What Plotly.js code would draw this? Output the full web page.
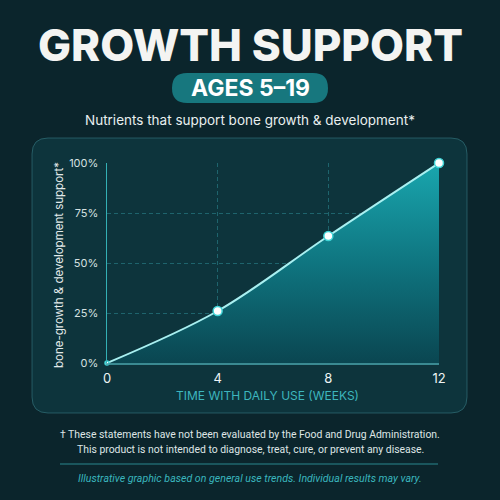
<!DOCTYPE html>
<html>
<head>
<meta charset="utf-8">
<script src="https://cdn.plot.ly/plotly-3.0.1.min.js"></script>
<style>
html,body{margin:0;padding:0;background:#0b252c;}
#chart{width:500px;height:500px;}
</style>
</head>
<body>
<div id="chart"></div>
<script>
// ---- data ----
var weeks = [0, 4, 8, 12];
var support = [0, 26, 63.5, 100];
var xTickVals = [0, 4, 8, 12];
var xTickText = ['0', '4', '8', '12'];
var yTickVals = [0, 25, 50, 75, 100];
var yTickText = ['0%', '25%', '50%', '75%', '100%'];

var titleText = 'GROWTH SUPPORT';
var pillText = 'AGES 5–19';
var subtitleText = 'Nutrients that support bone growth &amp; development*';
var yTitleText = 'bone-growth &amp; development support*';
var xTitleText = 'TIME WITH DAILY USE (WEEKS)';
var footer1 = '† These statements have not been evaluated by the Food and Drug Administration.';
var footer2 = 'This product is not intended to diagnose, treat, cure, or prevent any disease.';
var footer3 = 'Illustrative graphic based on general use trends. Individual results may vary.';

// ---- helpers (pixel -> paper) ----
var W = 500, H = 500;
function px(x){ return x / W; }
function py(y){ return 1 - y / H; }
function roundRect(x0, y0, x1, y1, r){
  var p = [];
  p.push('M', px(x0 + r), py(y0));
  p.push('L', px(x1 - r), py(y0));
  p.push('Q', px(x1), py(y0), px(x1), py(y0 + r));
  p.push('L', px(x1), py(y1 - r));
  p.push('Q', px(x1), py(y1), px(x1 - r), py(y1));
  p.push('L', px(x0 + r), py(y1));
  p.push('Q', px(x0), py(y1), px(x0), py(y1 - r));
  p.push('L', px(x0), py(y0 + r));
  p.push('Q', px(x0), py(y0), px(x0 + r), py(y0));
  p.push('Z');
  var s = '';
  for (var i = 0; i < p.length; i++){
    var v = p[i];
    if (typeof v === 'number') s += v.toFixed(5) + (typeof p[i+1] === 'number' ? ',' : ' ');
    else s += v + ' ';
  }
  return s;
}

var areaTrace = {
  x: weeks,
  y: support,
  type: 'scatter',
  mode: 'lines',
  line: {shape: 'spline', smoothing: 1, color: '#a9f0f1', width: 2},
  fill: 'tozeroy',
  fillgradient: {type: 'vertical', colorscale: [[0, '#0a4651'], [0.5, '#0f7580'], [1, '#19a6ae']]},
  cliponaxis: false,
  hoverinfo: 'skip'
};

var pointTrace = {
  x: weeks,
  y: support,
  type: 'scatter',
  mode: 'markers',
  marker: {size: [4, 9, 9, 9], color: '#ffffff', opacity: 1,
           line: {color: '#3fd3d6', width: 1.5}},
  cliponaxis: false,
  hoverinfo: 'skip'
};

var layout = {
  width: W, height: H,
  margin: {l: 0, r: 0, t: 0, b: 0},
  paper_bgcolor: '#0b252c',
  plot_bgcolor: 'rgba(0,0,0,0)',
  showlegend: false,
  font: {family: 'Inter, Roboto, sans-serif', color: '#e8eeee'},
  xaxis: {
    domain: [px(107), px(439)],
    range: [0, 12],
    tickvals: xTickVals, ticktext: xTickText,
    tickfont: {size: 13, color: '#eef4f4'},
    showgrid: true, gridcolor: 'rgba(45,140,150,0.55)', griddash: '4px,3px', gridwidth: 1,
    zeroline: false,
    showline: true, linecolor: 'rgba(70,160,168,0.8)', linewidth: 1.5,
    ticks: '', ticklabelstandoff: 3,
    fixedrange: true
  },
  yaxis: {
    domain: [py(363), py(163)],
    range: [0, 100],
    tickvals: yTickVals, ticktext: yTickText,
    tickfont: {size: 11, color: '#d5e0e0'},
    showgrid: true, gridcolor: 'rgba(45,140,150,0.55)', griddash: '4px,3px', gridwidth: 1,
    zeroline: false,
    showline: true, linecolor: '#33b0b5', linewidth: 1.5,
    ticks: '', ticklabelstandoff: 5,
    fixedrange: true
  },
  shapes: [
    {type: 'path', xref: 'paper', yref: 'paper', layer: 'below',
     path: roundRect(32, 138, 467, 413, 16),
     fillcolor: '#0d343c', line: {color: 'rgba(60,130,138,0.55)', width: 1}},
    {type: 'path', xref: 'paper', yref: 'paper', layer: 'below',
     path: roundRect(172, 73, 328, 103, 15),
     fillcolor: '#17777e', line: {width: 0}},
    {type: 'line', xref: 'paper', yref: 'paper', layer: 'below',
     x0: px(60), x1: px(438), y0: py(464), y1: py(464),
     line: {color: 'rgba(50,160,168,0.8)', width: 1}}
  ],
  annotations: [
    {text: titleText, xref: 'paper', yref: 'paper', x: 0.5, y: py(45), showarrow: false,
     xanchor: 'center', yanchor: 'middle',
     font: {family: 'Inter, sans-serif', size: 44, weight: 800, color: '#f4f4f2'}},
    {text: pillText, xref: 'paper', yref: 'paper', x: 0.5, y: py(88), showarrow: false,
     xanchor: 'center', yanchor: 'middle',
     font: {family: 'Inter, sans-serif', size: 23, weight: 700, color: '#ffffff'}},
    {text: subtitleText, xref: 'paper', yref: 'paper', x: 0.5, y: py(120), showarrow: false,
     xanchor: 'center', yanchor: 'middle',
     font: {family: 'Inter, sans-serif', size: 13.5, color: '#e9efef'}},
    {text: yTitleText, xref: 'paper', yref: 'paper', x: px(59), y: py(265), showarrow: false,
     xanchor: 'center', yanchor: 'middle', textangle: -90,
     font: {family: 'Inter, sans-serif', size: 11.5, color: '#e3eaea'}},
    {text: xTitleText, xref: 'paper', yref: 'paper', x: px(267), y: py(395), showarrow: false,
     xanchor: 'center', yanchor: 'middle',
     font: {family: 'Inter, sans-serif', size: 12, color: '#3db6be'}},
    {text: footer1, xref: 'paper', yref: 'paper', x: 0.5, y: py(434), showarrow: false,
     xanchor: 'center', yanchor: 'middle',
     font: {family: 'Roboto, sans-serif', size: 10.4, color: '#dfe6e6'}},
    {text: footer2, xref: 'paper', yref: 'paper', x: 0.5, y: py(449), showarrow: false,
     xanchor: 'center', yanchor: 'middle',
     font: {family: 'Roboto, sans-serif', size: 10.4, color: '#dfe6e6'}},
    {text: '<i>' + footer3 + '</i>', xref: 'paper', yref: 'paper', x: 0.5, y: py(478), showarrow: false,
     xanchor: 'center', yanchor: 'middle',
     font: {family: 'Roboto, sans-serif', size: 10.6, color: '#3ab6be'}}
  ]
};

Plotly.newPlot('chart', [areaTrace, pointTrace], layout, {staticPlot: true, displayModeBar: false});
</script>
</body>
</html>
